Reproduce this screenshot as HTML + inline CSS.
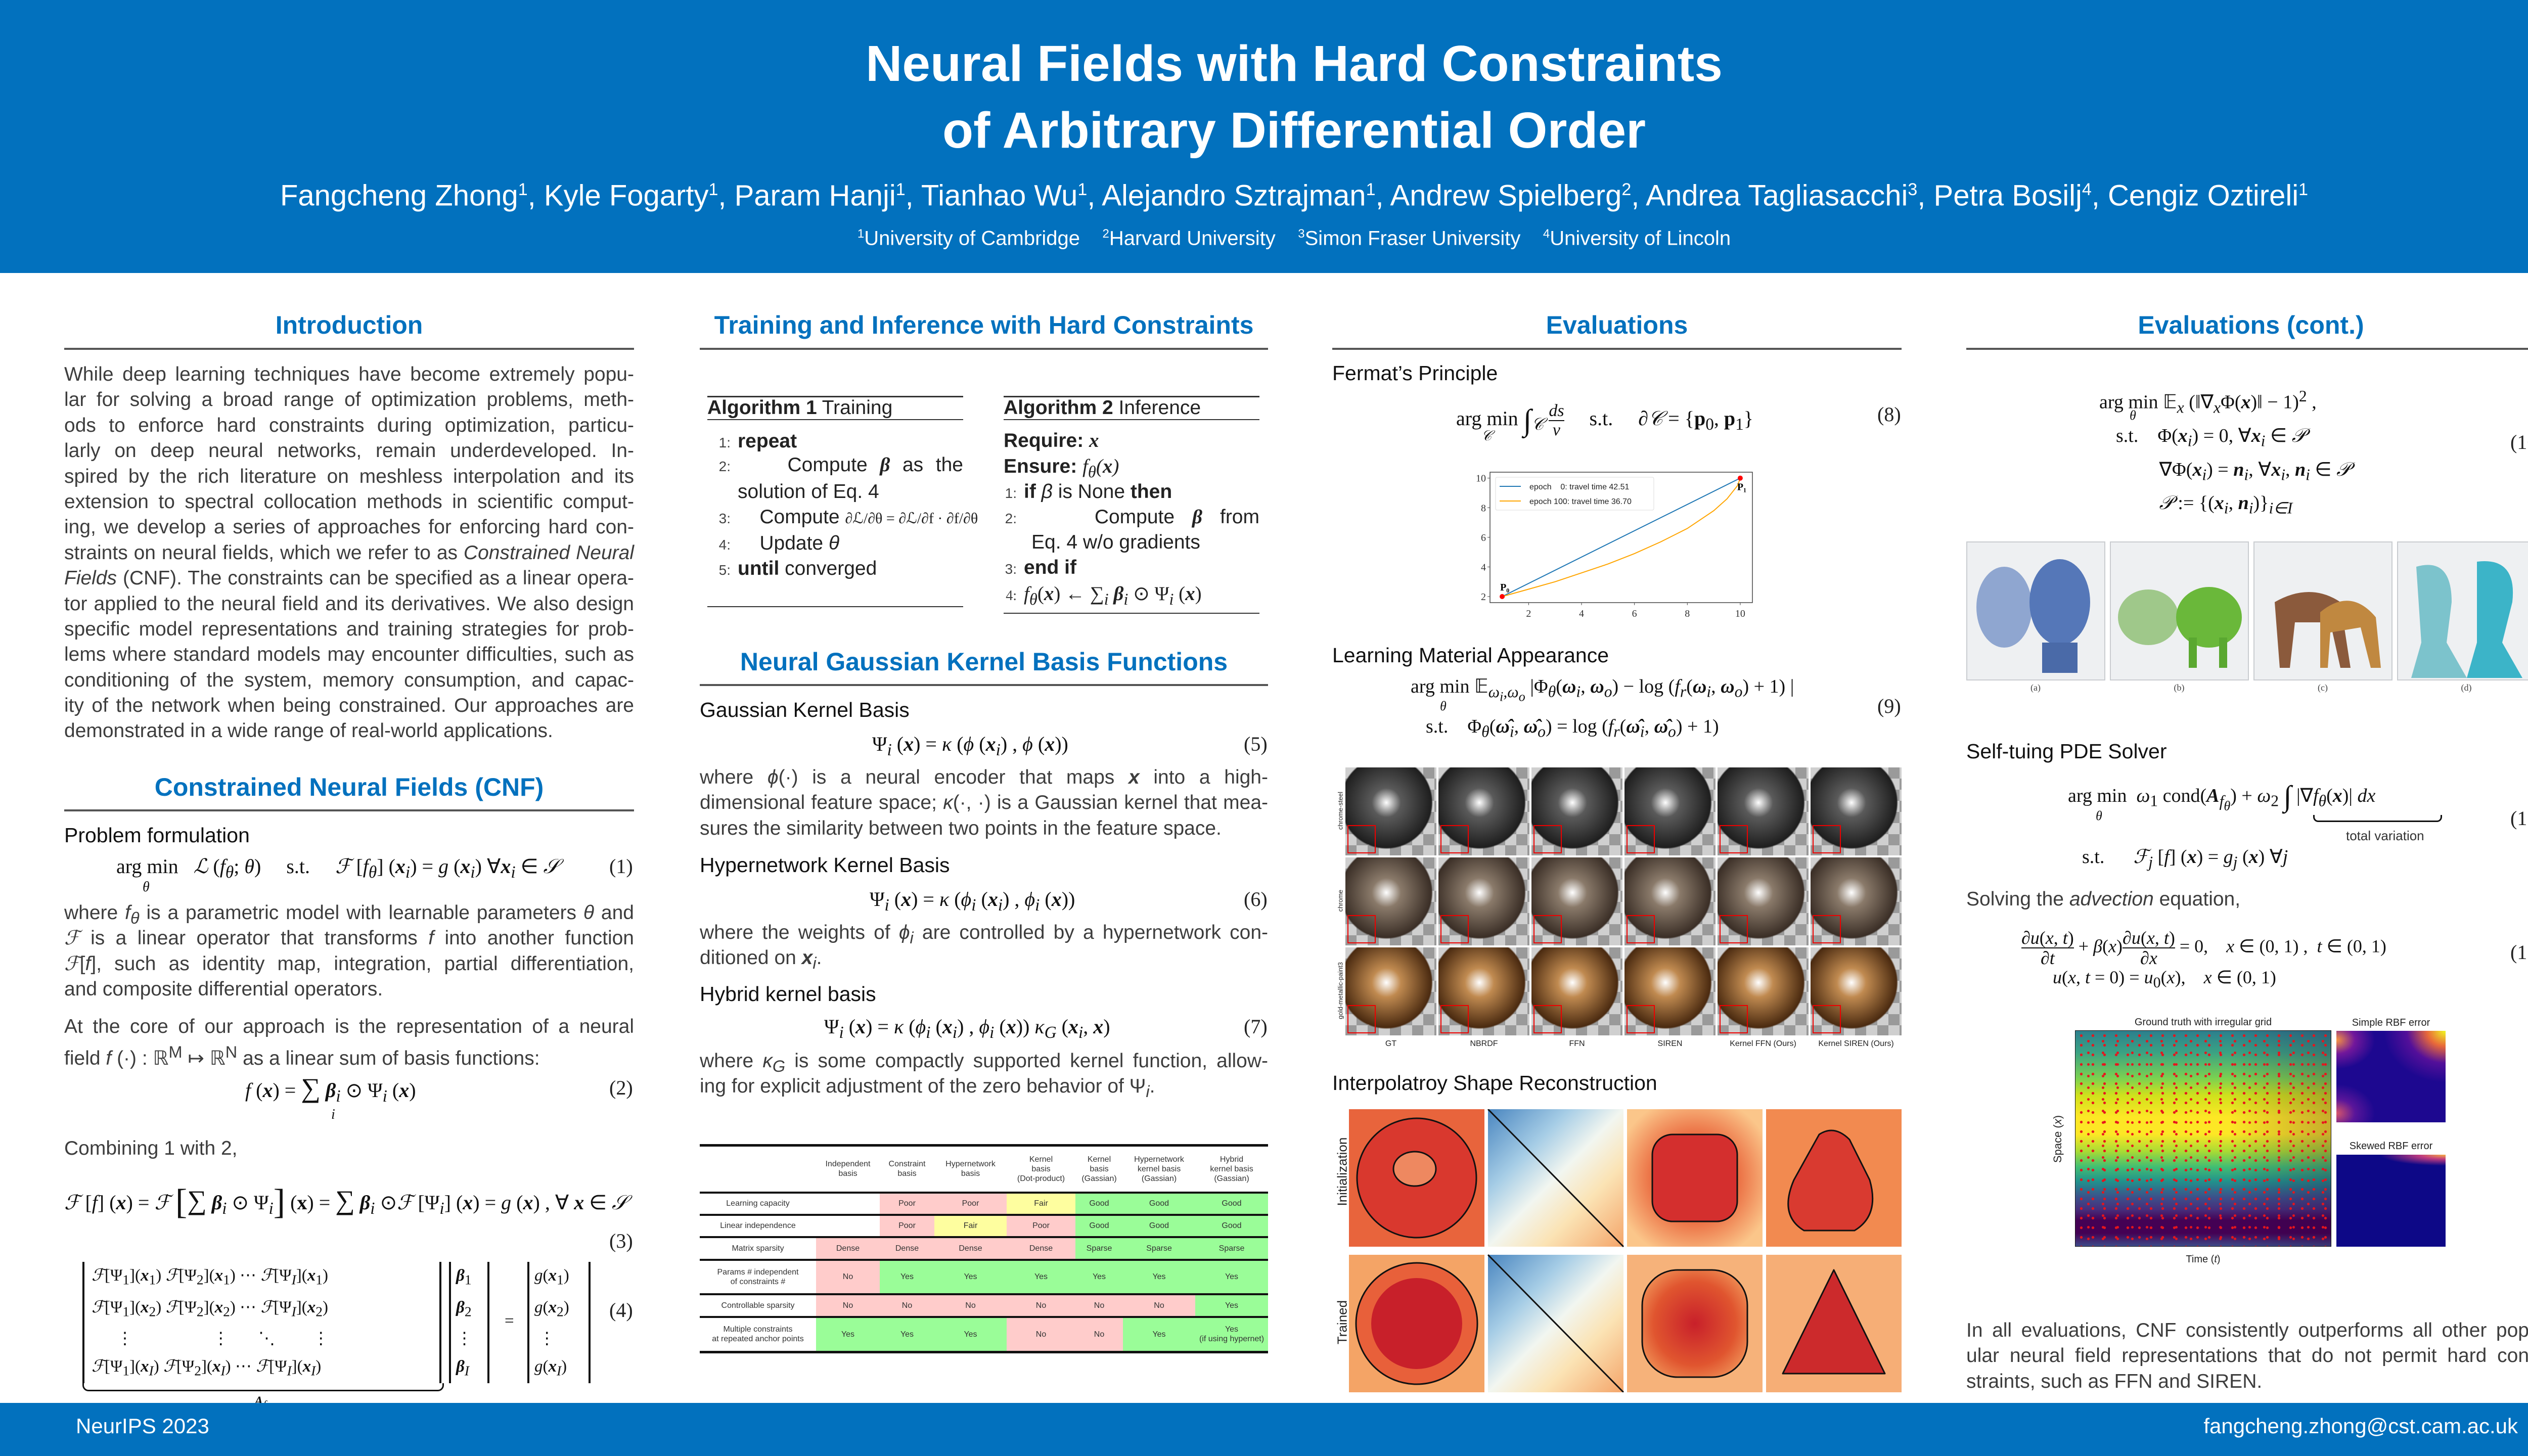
<!DOCTYPE html>
<html><head><meta charset="utf-8">
<style>
*{margin:0;padding:0;box-sizing:border-box}
body{width:5119px;height:2880px;position:relative;background:#fff;font-family:"Liberation Sans",sans-serif;color:#222;overflow:hidden}
.a{position:absolute;white-space:nowrap}
.hd{position:absolute;font-size:50px;font-weight:bold;color:#0271be;text-align:center;line-height:64px}
.rule{position:absolute;height:4px;background:#555}
.sub{position:absolute;font-size:41px;color:#111;line-height:50px;white-space:nowrap}
.p{position:absolute;font-size:39px;line-height:50.4px;color:#3d3d3d}
.p div{text-align:justify;text-align-last:justify;white-space:nowrap;height:50.4px}
.p div.l{text-align-last:left}
.eq{position:absolute;font-family:"Liberation Serif",serif;font-size:40px;line-height:50px;white-space:nowrap;color:#111}
.i{font-style:italic}
.b{font-weight:bold}
.num{position:absolute;font-family:"Liberation Serif",serif;font-size:40px;line-height:50px}
.alg{position:absolute;font-size:39px;line-height:50px;white-space:nowrap;color:#222}
.ln{font-size:28px;color:#444;display:inline-block;width:60px;text-align:right;padding-right:14px}
.js{display:inline-block;text-align:justify;text-align-last:justify}
table.cmp{position:absolute;left:1384px;top:2263px;width:1124px;border-collapse:collapse;font-size:16px;color:#333;text-align:center}
.cmp td{padding:0;line-height:19px}
.R{background:#ffcccb}.G{background:#9afd98}.Y{background:#fefe9f}
</style></head><body>

<!-- HEADER -->
<div style="position:absolute;left:0;top:0;width:5119px;height:540px;background:#0271be"></div>
<div class="a" style="left:0;width:5119px;top:60px;text-align:center;color:#fff;font-weight:bold;font-size:100px;line-height:132px">Neural Fields with Hard Constraints<br>of Arbitrary Differential Order</div>
<div class="a" style="left:0;width:5119px;top:337px;text-align:center;color:#fff;font-size:58px;line-height:76px">Fangcheng Zhong<sup style="font-size:34px">1</sup>, Kyle Fogarty<sup style="font-size:34px">1</sup>, Param Hanji<sup style="font-size:34px">1</sup>, Tianhao Wu<sup style="font-size:34px">1</sup>, Alejandro Sztrajman<sup style="font-size:34px">1</sup>, Andrew Spielberg<sup style="font-size:34px">2</sup>, Andrea Tagliasacchi<sup style="font-size:34px">3</sup>, Petra Bosilj<sup style="font-size:34px">4</sup>, Cengiz Oztireli<sup style="font-size:34px">1</sup></div>
<div class="a" style="left:0;width:5119px;top:436px;text-align:center;color:#fff;font-size:40px;line-height:54px"><sup style="font-size:24px">1</sup>University of Cambridge &nbsp;&nbsp; <sup style="font-size:24px">2</sup>Harvard University &nbsp;&nbsp; <sup style="font-size:24px">3</sup>Simon Fraser University &nbsp;&nbsp; <sup style="font-size:24px">4</sup>University of Lincoln</div>

<!-- COLUMN 1 -->
<div class="hd" style="left:127px;width:1127px;top:611px">Introduction</div>
<div class="rule" style="left:127px;width:1127px;top:688px"></div>
<div class="p" style="left:127px;width:1127px;top:716px">
<div>While deep learning techniques have become extremely popu-</div>
<div>lar for solving a broad range of optimization problems, meth-</div>
<div>ods to enforce hard constraints during optimization, particu-</div>
<div>larly on deep neural networks, remain underdeveloped. In-</div>
<div>spired by the rich literature on meshless interpolation and its</div>
<div>extension to spectral collocation methods in scientific comput-</div>
<div>ing, we develop a series of approaches for enforcing hard con-</div>
<div>straints on neural fields, which we refer to as <i>Constrained Neural</i></div>
<div><i>Fields</i> (CNF). The constraints can be specified as a linear opera-</div>
<div>tor applied to the neural field and its derivatives. We also design</div>
<div>specific model representations and training strategies for prob-</div>
<div>lems where standard models may encounter difficulties, such as</div>
<div>conditioning of the system, memory consumption, and capac-</div>
<div>ity of the network when being constrained. Our approaches are</div>
<div class="l">demonstrated in a wide range of real-world applications.</div>
</div>

<div class="hd" style="left:127px;width:1127px;top:1525px">Constrained Neural Fields (CNF)</div>
<div class="rule" style="left:127px;width:1127px;top:1601px"></div>
<div class="sub" style="left:127px;top:1627px">Problem formulation</div>
<div class="eq" style="left:230px;top:1689px">arg min <span style="display:inline-block;width:20px"></span><span class="i">ℒ</span> (<span class="i">f<sub>θ</sub></span>; <span class="i">θ</span>) &nbsp;&nbsp;&nbsp; s.t. &nbsp;&nbsp;&nbsp; <span class="i">ℱ</span> [<span class="i">f<sub>θ</sub></span>] (<b class="i">x</b><sub class="i">i</sub>) = <span class="i">g</span> (<b class="i">x</b><sub class="i">i</sub>) ∀<b class="i">x</b><sub class="i">i</sub> ∈ <span class="i">𝒮</span></div>
<div class="eq i" style="left:282px;top:1730px;font-size:28px">θ</div>
<div class="num" style="left:1205px;top:1689px">(1)</div>
<div class="p" style="left:127px;width:1127px;top:1781px">
<div>where <i>f<sub>θ</sub></i> is a parametric model with learnable parameters <i>θ</i> and</div>
<div><i>ℱ</i> is a linear operator that transforms <i>f</i> into another function</div>
<div><i>ℱ</i>[<i>f</i>], such as identity map, integration, partial differentiation,</div>
<div class="l">and composite differential operators.</div>
</div>
<div class="p" style="left:127px;width:1127px;top:2006px">
<div>At the core of our approach is the representation of a neural</div>
<div class="l">field <i>f</i> (·) : ℝ<sup>M</sup> ↦ ℝ<sup>N</sup> as a linear sum of basis functions:</div>
</div>
<div class="eq" style="left:485px;top:2127px"><span class="i">f</span> (<b class="i">x</b>) = <span style="font-size:54px">∑</span> <b class="i">β</b><sub class="i">i</sub> ⊙ Ψ<sub class="i">i</sub> (<b class="i">x</b>)</div>
<div class="eq i" style="left:655px;top:2180px;font-size:28px">i</div>
<div class="num" style="left:1205px;top:2127px">(2)</div>
<div class="p" style="left:127px;top:2247px"><div class="l">Combining 1 with 2,</div></div>
<div class="eq" style="left:127px;top:2349px"><span class="i">ℱ</span> [<span class="i">f</span>] (<b class="i">x</b>) = <span class="i">ℱ</span> <span style="font-size:70px;vertical-align:-8px">[</span><span style="font-size:54px">∑</span> <b class="i">β</b><sub class="i">i</sub> ⊙ Ψ<sub class="i">i</sub><span style="font-size:70px;vertical-align:-8px">]</span> (<b>x</b>) = <span style="font-size:54px">∑</span> <b class="i">β</b><sub class="i">i</sub> ⊙<span class="i">ℱ</span> [Ψ<sub class="i">i</sub>] (<b class="i">x</b>) = <span class="i">g</span> (<b class="i">x</b>) , ∀ <b class="i">x</b> ∈ <span class="i">𝒮</span></div>
<div class="num" style="left:1205px;top:2430px">(3)</div>
<div class="eq" style="left:163px;top:2496px;font-size:33px;line-height:55px">
 <div style="position:absolute;left:0;top:0;width:710px;height:240px;border-left:4px solid #111;border-right:4px solid #111;padding-left:14px">
  <div><span class="i">ℱ</span>[Ψ<sub>1</sub>](<b class="i">x</b><sub>1</sub>) <span class="i">ℱ</span>[Ψ<sub>2</sub>](<b class="i">x</b><sub>1</sub>) ⋯ <span class="i">ℱ</span>[Ψ<sub class="i">I</sub>](<b class="i">x</b><sub>1</sub>)</div>
  <div><span class="i">ℱ</span>[Ψ<sub>1</sub>](<b class="i">x</b><sub>2</sub>) <span class="i">ℱ</span>[Ψ<sub>2</sub>](<b class="i">x</b><sub>2</sub>) ⋯ <span class="i">ℱ</span>[Ψ<sub class="i">I</sub>](<b class="i">x</b><sub>2</sub>)</div>
  <div>&nbsp;&nbsp;&nbsp;&nbsp;&nbsp;&nbsp;⋮ &nbsp;&nbsp;&nbsp;&nbsp;&nbsp;&nbsp;&nbsp;&nbsp;&nbsp;&nbsp;&nbsp;&nbsp;&nbsp;&nbsp;&nbsp;&nbsp;&nbsp;&nbsp;⋮ &nbsp;&nbsp;&nbsp;&nbsp;&nbsp;&nbsp;⋱ &nbsp;&nbsp;&nbsp;&nbsp;&nbsp;&nbsp;&nbsp;&nbsp;⋮</div>
  <div><span class="i">ℱ</span>[Ψ<sub>1</sub>](<b class="i">x</b><sub class="i">I</sub>) <span class="i">ℱ</span>[Ψ<sub>2</sub>](<b class="i">x</b><sub class="i">I</sub>) ⋯ <span class="i">ℱ</span>[Ψ<sub class="i">I</sub>](<b class="i">x</b><sub class="i">I</sub>)</div>
 </div>
 <div style="position:absolute;left:725px;top:0;width:80px;height:240px;border-left:4px solid #111;border-right:4px solid #111;padding-left:10px"><b class="i">β</b><sub>1</sub><br><b class="i">β</b><sub>2</sub><br>⋮<br><b class="i">β</b><sub class="i">I</sub></div>
 <div style="position:absolute;left:835px;top:90px">=</div>
 <div style="position:absolute;left:880px;top:0;width:125px;height:240px;border-left:4px solid #111;border-right:4px solid #111;padding-left:10px"><span class="i">g</span>(<b class="i">x</b><sub>1</sub>)<br><span class="i">g</span>(<b class="i">x</b><sub>2</sub>)<br>&nbsp;⋮<br><span class="i">g</span>(<b class="i">x</b><sub class="i">I</sub>)</div>
 <div style="position:absolute;left:0;top:240px;width:715px;height:16px;border:3px solid #111;border-top:none;border-radius:0 0 12px 12px"></div>
 <div style="position:absolute;left:340px;top:248px;font-size:26px"><b class="i">A</b><sub class="i">f</sub></div>
</div>
<div class="num" style="left:1205px;top:2567px">(4)</div>

<!-- COLUMN 2 -->
<div class="hd" style="left:1384px;width:1124px;top:611px">Training and Inference with Hard Constraints</div>
<div class="rule" style="left:1384px;width:1124px;top:688px"></div>

<div>
<div class="rule" style="left:1399px;width:506px;top:783px;height:3px;background:#333"></div>
<div class="alg" style="left:1399px;top:782px"><b>Algorithm 1</b> Training</div>
<div class="rule" style="left:1399px;width:506px;top:829px;height:2px;background:#333"></div>
<div class="alg" style="left:1399px;top:848px"><span class="ln">1:</span><b>repeat</b></div>
<div class="alg" style="left:1399px;top:895px"><span class="ln">2:</span><span class="js" style="width:446px">&nbsp;&nbsp;&nbsp;&nbsp;Compute <b class="i" style="font-family:'Liberation Serif'">β</b> as the</span></div>
<div class="alg" style="left:1459px;top:948px">solution of Eq. 4</div>
<div class="alg" style="left:1399px;top:998px"><span class="ln">3:</span>&nbsp;&nbsp;&nbsp;&nbsp;Compute <span style="font-family:'Liberation Serif';font-size:30px">∂ℒ/∂θ = ∂ℒ/∂f · ∂f/∂θ</span></div>
<div class="alg" style="left:1399px;top:1050px"><span class="ln">4:</span>&nbsp;&nbsp;&nbsp;&nbsp;Update <i>θ</i></div>
<div class="alg" style="left:1399px;top:1100px"><span class="ln">5:</span><b>until</b> converged</div>
<div class="rule" style="left:1399px;width:506px;top:1199px;height:2px;background:#333"></div>
</div>

<div>
<div class="rule" style="left:1985px;width:506px;top:783px;height:3px;background:#333"></div>
<div class="alg" style="left:1985px;top:782px"><b>Algorithm 2</b> Inference</div>
<div class="rule" style="left:1985px;width:506px;top:829px;height:2px;background:#333"></div>
<div class="alg" style="left:1985px;top:847px"><b>Require:</b> <b class="i" style="font-family:'Liberation Serif'">x</b></div>
<div class="alg" style="left:1985px;top:898px"><b>Ensure:</b> <span class="i" style="font-family:'Liberation Serif'">f<sub>θ</sub>(<b>x</b>)</span></div>
<div class="alg" style="left:1985px;top:948px"><span class="ln" style="width:40px">1:</span><b>if</b> <i>β</i> is None <b>then</b></div>
<div class="alg" style="left:1985px;top:998px"><span class="ln" style="width:40px">2:</span><span class="js" style="width:466px">&nbsp;&nbsp;&nbsp;&nbsp;Compute <b class="i" style="font-family:'Liberation Serif'">β</b> from</span></div>
<div class="alg" style="left:2040px;top:1048px">Eq. 4 w/o gradients</div>
<div class="alg" style="left:1985px;top:1098px"><span class="ln" style="width:40px">3:</span><b>end if</b></div>
<div class="alg" style="left:1985px;top:1150px;font-family:'Liberation Serif'"><span class="ln" style="width:40px">4:</span><i>f<sub>θ</sub></i>(<b class="i">x</b>) ← ∑<sub class="i">i</sub> <b class="i">β</b><sub class="i">i</sub> ⊙ Ψ<sub class="i">i</sub> (<b class="i">x</b>)</div>
<div class="rule" style="left:1985px;width:506px;top:1212px;height:2px;background:#333"></div>
</div>

<div class="hd" style="left:1384px;width:1124px;top:1277px">Neural Gaussian Kernel Basis Functions</div>
<div class="rule" style="left:1384px;width:1124px;top:1353px"></div>
<div class="sub" style="left:1384px;top:1379px">Gaussian Kernel Basis</div>
<div class="eq" style="left:1725px;top:1447px">Ψ<sub class="i">i</sub> (<b class="i">x</b>) = <span class="i">κ</span> (<span class="i">ϕ</span> (<b class="i">x</b><sub class="i">i</sub>) , <span class="i">ϕ</span> (<b class="i">x</b>))</div>
<div class="num" style="left:2460px;top:1447px">(5)</div>
<div class="p" style="left:1384px;width:1124px;top:1513px">
<div>where <i>ϕ</i>(·) is a neural encoder that maps <b><i>x</i></b> into a high-</div>
<div>dimensional feature space; <i>κ</i>(·, ·) is a Gaussian kernel that mea-</div>
<div class="l">sures the similarity between two points in the feature space.</div>
</div>
<div class="sub" style="left:1384px;top:1686px">Hypernetwork Kernel Basis</div>
<div class="eq" style="left:1720px;top:1754px">Ψ<sub class="i">i</sub> (<b class="i">x</b>) = <span class="i">κ</span> (<span class="i">ϕ<sub>i</sub></span> (<b class="i">x</b><sub class="i">i</sub>) , <span class="i">ϕ<sub>i</sub></span> (<b class="i">x</b>))</div>
<div class="num" style="left:2460px;top:1754px">(6)</div>
<div class="p" style="left:1384px;width:1124px;top:1820px">
<div>where the weights of <i>ϕ<sub>i</sub></i> are controlled by a hypernetwork con-</div>
<div class="l">ditioned on <b><i>x</i></b><sub><i>i</i></sub>.</div>
</div>
<div class="sub" style="left:1384px;top:1941px">Hybrid kernel basis</div>
<div class="eq" style="left:1630px;top:2006px">Ψ<sub class="i">i</sub> (<b class="i">x</b>) = <span class="i">κ</span> (<span class="i">ϕ<sub>i</sub></span> (<b class="i">x</b><sub class="i">i</sub>) , <span class="i">ϕ<sub>i</sub></span> (<b class="i">x</b>)) <span class="i">κ<sub>G</sub></span> (<b class="i">x</b><sub class="i">i</sub>, <b class="i">x</b>)</div>
<div class="num" style="left:2460px;top:2006px">(7)</div>
<div class="p" style="left:1384px;width:1124px;top:2074px">
<div>where <i>κ<sub>G</sub></i> is some compactly supported kernel function, allow-</div>
<div class="l">ing for explicit adjustment of the zero behavior of Ψ<sub><i>i</i></sub>.</div>
</div>

<table class="cmp">
<colgroup><col style="width:230px"><col style="width:126px"><col style="width:108px"><col style="width:143px"><col style="width:136px"><col style="width:94px"><col style="width:143px"><col style="width:144px"></colgroup>
<tr style="height:93px;border-top:5px solid #111;border-bottom:4px solid #111"><td></td><td>Independent<br>basis</td><td>Constraint<br>basis</td><td>Hypernetwork<br>basis</td><td>Kernel<br>basis<br>(Dot-product)</td><td>Kernel<br>basis<br>(Gassian)</td><td>Hypernetwork<br>kernel basis<br>(Gassian)</td><td>Hybrid<br>kernel basis<br>(Gassian)</td></tr>
<tr style="height:44px;border-bottom:4px solid #111"><td>Learning capacity</td><td></td><td class="R">Poor</td><td class="R">Poor</td><td class="Y">Fair</td><td class="G">Good</td><td class="G">Good</td><td class="G">Good</td></tr>
<tr style="height:44px;border-bottom:4px solid #111"><td>Linear independence</td><td></td><td class="R">Poor</td><td class="Y">Fair</td><td class="R">Poor</td><td class="G">Good</td><td class="G">Good</td><td class="G">Good</td></tr>
<tr style="height:45px;border-bottom:4px solid #111"><td>Matrix sparsity</td><td class="R">Dense</td><td class="R">Dense</td><td class="R">Dense</td><td class="R">Dense</td><td class="G">Sparse</td><td class="G">Sparse</td><td class="G">Sparse</td></tr>
<tr style="height:68px;border-bottom:4px solid #111"><td>Params # independent<br>of constraints #</td><td class="R">No</td><td class="G">Yes</td><td class="G">Yes</td><td class="G">Yes</td><td class="G">Yes</td><td class="G">Yes</td><td class="G">Yes</td></tr>
<tr style="height:45px;border-bottom:4px solid #111"><td>Controllable sparsity</td><td class="R">No</td><td class="R">No</td><td class="R">No</td><td class="R">No</td><td class="R">No</td><td class="R">No</td><td class="G">Yes</td></tr>
<tr style="height:70px;border-bottom:5px solid #111"><td>Multiple constraints<br>at repeated anchor points</td><td class="G">Yes</td><td class="G">Yes</td><td class="G">Yes</td><td class="R">No</td><td class="R">No</td><td class="G">Yes</td><td class="G">Yes<br>(if using hypernet)</td></tr>
</table>

<!-- COLUMN 3 -->
<div class="hd" style="left:2635px;width:1126px;top:611px">Evaluations</div>
<div class="rule" style="left:2635px;width:1126px;top:688px"></div>
<div class="sub" style="left:2635px;top:713px">Fermat’s Principle</div>
<div class="eq" style="left:2880px;top:795px">arg min <span style="font-size:60px;vertical-align:-10px">∫</span><sub class="i">𝒞</sub> <span style="display:inline-block;vertical-align:middle;text-align:center;font-size:34px;line-height:36px"><span class="i">ds</span><br><span style="border-top:2px solid #111;display:block" class="i">v</span></span> &nbsp;&nbsp;&nbsp; s.t. &nbsp;&nbsp;&nbsp; ∂<span class="i">𝒞</span> = {<b>p</b><sub>0</sub>, <b>p</b><sub>1</sub>}</div>
<div class="eq i" style="left:2930px;top:838px;font-size:28px">𝒞</div>
<div class="num" style="left:3713px;top:795px">(8)</div>

<svg id="fermat" style="position:absolute;left:2880px;top:910px" width="620" height="330"></svg>

<div class="sub" style="left:2635px;top:1271px">Learning Material Appearance</div>
<div class="eq" style="left:2790px;top:1333px;font-size:38px">arg min 𝔼<sub class="i">ω<sub>i</sub>,ω<sub>o</sub></sub> |Φ<sub class="i">θ</sub>(<b class="i">ω</b><sub class="i">i</sub>, <b class="i">ω</b><sub class="i">o</sub>) − log (<span class="i">f<sub>r</sub></span>(<b class="i">ω</b><sub class="i">i</sub>, <b class="i">ω</b><sub class="i">o</sub>) + 1) |</div>
<div class="eq i" style="left:2848px;top:1372px;font-size:26px">θ</div>
<div class="eq" style="left:2820px;top:1412px;font-size:38px">s.t. &nbsp;&nbsp; Φ<sub class="i">θ</sub>(<b class="i">ω̂</b><sub class="i">i</sub>, <b class="i">ω̂</b><sub class="i">o</sub>) = log (<span class="i">f<sub>r</sub></span>(<b class="i">ω̂</b><sub class="i">i</sub>, <b class="i">ω̂</b><sub class="i">o</sub>) + 1)</div>
<div class="num" style="left:3713px;top:1372px">(9)</div>
<div id="materials" style="position:absolute;left:2661px;top:1518px;width:1100px;height:570px"></div>

<div class="sub" style="left:2635px;top:2117px">Interpolatroy Shape Reconstruction</div>
<div class="a" style="left:2595px;top:2310px;font-size:26px;transform:rotate(-90deg);width:120px;text-align:center">Initialization</div>
<div class="a" style="left:2595px;top:2600px;font-size:26px;transform:rotate(-90deg);width:120px;text-align:center">Trained</div>
<svg style="position:absolute;left:2668px;top:2194px" width="1093" height="560">
<defs>
<radialGradient id="rg1" cx="50%" cy="50%" r="65%"><stop offset="0" stop-color="#c8202a"/><stop offset=".6" stop-color="#e0552f"/><stop offset="1" stop-color="#f4a060"/></radialGradient>
<linearGradient id="lg1" x1="0" y1="0" x2="1" y2="1"><stop offset="0" stop-color="#4a86c0"/><stop offset=".3" stop-color="#a6cde6"/><stop offset=".5" stop-color="#f2f6f0"/><stop offset=".7" stop-color="#fbe3b4"/><stop offset="1" stop-color="#f4a56a"/></linearGradient>
<radialGradient id="rg2" cx="50%" cy="50%" r="60%"><stop offset="0" stop-color="#c9222b"/><stop offset=".5" stop-color="#ea6a3f"/><stop offset="1" stop-color="#fbc68a"/></radialGradient>
</defs>
<g>
<rect x="0" y="0" width="268" height="272" fill="#e8643c"/><circle cx="134" cy="136" r="118" fill="#d9382e" stroke="#111" stroke-width="3"/><ellipse cx="130" cy="118" rx="42" ry="34" fill="#ee8860" stroke="#111" stroke-width="3"/>
<rect x="275" y="0" width="268" height="272" fill="url(#lg1)"/><line x1="275" y1="0" x2="543" y2="272" stroke="#111" stroke-width="3"/>
<rect x="550" y="0" width="268" height="272" fill="url(#rg2)"/><rect x="600" y="50" width="168" height="172" rx="40" fill="#d42f2e" stroke="#111" stroke-width="3"/>
<rect x="825" y="0" width="268" height="272" fill="#f28a50"/><path d="M930 50 Q960 30 990 60 L1030 140 Q1050 210 1000 240 L900 240 Q850 210 880 140 Z" fill="#d93a30" stroke="#111" stroke-width="3"/>
</g>
<g transform="translate(0,288)">
<rect x="0" y="0" width="268" height="272" fill="#f4a466"/><circle cx="134" cy="136" r="120" fill="#e8603a" stroke="#111" stroke-width="3"/><circle cx="134" cy="136" r="90" fill="#c8202a"/>
<rect x="275" y="0" width="268" height="272" fill="url(#lg1)"/><line x1="275" y1="0" x2="543" y2="272" stroke="#111" stroke-width="3"/>
<rect x="550" y="0" width="268" height="272" fill="#f6b27a"/><rect x="580" y="30" width="208" height="212" rx="70" fill="url(#rg1)" stroke="#111" stroke-width="3"/>
<rect x="825" y="0" width="268" height="272" fill="#f6ae76"/><path d="M959 30 L1060 235 L858 235 Z" fill="#cc2a2c" stroke="#111" stroke-width="3" stroke-linejoin="round"/>
</g>
</svg>

<!-- COLUMN 4 -->
<div class="hd" style="left:3889px;width:1126px;top:611px">Evaluations (cont.)</div>
<div class="rule" style="left:3889px;width:1126px;top:688px"></div>
<div class="eq" style="left:4152px;top:759px;font-size:38px">arg min 𝔼<sub class="i">x</sub> (‖∇<sub class="i">x</sub>Φ(<b class="i">x</b>)‖ − 1)<sup>2</sup> ,</div>
<div class="eq i" style="left:4212px;top:797px;font-size:26px">θ</div>
<div class="eq" style="left:4185px;top:834px;font-size:38px;line-height:57px">s.t. &nbsp;&nbsp;&nbsp;Φ(<b class="i">x</b><sub class="i">i</sub>) = 0, ∀<b class="i">x</b><sub class="i">i</sub> ∈ <span class="i">𝒫</span><br>&nbsp;&nbsp;&nbsp;&nbsp;&nbsp;&nbsp;&nbsp;&nbsp;&nbsp;∇Φ(<b class="i">x</b><sub class="i">i</sub>) = <b class="i">n</b><sub class="i">i</sub>, ∀<b class="i">x</b><sub class="i">i</sub>, <b class="i">n</b><sub class="i">i</sub> ∈ <span class="i">𝒫</span><br>&nbsp;&nbsp;&nbsp;&nbsp;&nbsp;&nbsp;&nbsp;&nbsp;&nbsp;<span class="i">𝒫</span> := {(<b class="i">x</b><sub class="i">i</sub>, <b class="i">n</b><sub class="i">i</sub>)}<sub class="i">i∈I</sub></div>
<div class="num" style="left:4965px;top:850px">(10)</div>

<svg style="position:absolute;left:3889px;top:1071px" width="1126" height="310">
<g fill="none" stroke="#c9ccd0" stroke-width="2">
<rect x="1" y="1" width="273" height="273" fill="#eef0f2"/><rect x="285" y="1" width="273" height="273" fill="#eef0f2"/><rect x="569" y="1" width="273" height="273" fill="#eef0f2"/><rect x="853" y="1" width="272" height="273" fill="#eef0f2"/>
</g>
<ellipse cx="75" cy="130" rx="55" ry="80" fill="#8fa6d0"/><ellipse cx="185" cy="120" rx="60" ry="85" fill="#5577b8"/><rect x="150" y="200" width="70" height="60" fill="#4a6aa8"/>
<ellipse cx="360" cy="150" rx="60" ry="55" fill="#9fc88a"/><ellipse cx="480" cy="150" rx="65" ry="60" fill="#6ab83a"/><rect x="440" y="190" width="16" height="60" fill="#5aa830"/><rect x="500" y="190" width="16" height="60" fill="#5aa830"/>
<path d="M610 120 Q680 80 740 120 L760 250 L740 250 L720 160 L650 160 L640 250 L620 250 Z" fill="#8b5a3c"/><path d="M700 140 Q760 90 810 150 L820 250 L800 250 L780 170 L720 180 L715 250 L700 250 Z" fill="#c08840"/>
<path d="M890 50 Q960 30 960 120 L950 200 L990 270 L880 270 L900 200 Z" fill="#7cc3cc"/><path d="M1010 40 Q1090 30 1080 120 L1060 200 L1100 270 L990 270 L1010 200 Z" fill="#3cb4c8"/>
<text x="137" y="295" font-size="18" text-anchor="middle" fill="#444" font-family="Liberation Serif">(a)</text><text x="421" y="295" font-size="18" text-anchor="middle" fill="#444" font-family="Liberation Serif">(b)</text><text x="705" y="295" font-size="18" text-anchor="middle" fill="#444" font-family="Liberation Serif">(c)</text><text x="989" y="295" font-size="18" text-anchor="middle" fill="#444" font-family="Liberation Serif">(d)</text>
</svg>

<div class="sub" style="left:3889px;top:1461px">Self-tuing PDE Solver</div>
<div class="eq" style="left:4090px;top:1549px;font-size:38px">arg min &nbsp;<span class="i">ω</span><sub>1</sub> cond(<b class="i">A</b><sub class="i">f<sub>θ</sub></sub>) + <span class="i">ω</span><sub>2</sub> <span style="font-size:58px;vertical-align:-8px">∫</span> |∇<span class="i">f<sub>θ</sub></span>(<b class="i">x</b>)| <span class="i">dx</span></div>
<div class="eq i" style="left:4145px;top:1589px;font-size:26px">θ</div>
<div style="position:absolute;left:4575px;top:1612px;width:255px;height:14px;border:3px solid #111;border-top:none;border-radius:0 0 10px 10px"></div>
<div class="a" style="left:4640px;top:1638px;font-size:26px;color:#333">total variation</div>
<div class="num" style="left:4965px;top:1594px">(11)</div>
<div class="eq" style="left:4118px;top:1670px;font-size:38px">s.t. &nbsp;&nbsp;&nbsp;&nbsp;&nbsp;<span class="i">ℱ<sub>j</sub></span> [<span class="i">f</span>] (<b class="i">x</b>) = <span class="i">g<sub>j</sub></span> (<b class="i">x</b>) ∀<span class="i">j</span></div>
<div class="p" style="left:3889px;top:1754px"><div class="l">Solving the <i>advection</i> equation,</div></div>
<div class="eq" style="left:3998px;top:1836px;font-size:36px"><span style="display:inline-block;vertical-align:middle;text-align:center;line-height:38px">∂<span class="i">u</span>(<span class="i">x</span>, <span class="i">t</span>)<br><span style="border-top:2px solid #111;display:block">∂<span class="i">t</span></span></span> + <span class="i">β</span>(<span class="i">x</span>)<span style="display:inline-block;vertical-align:middle;text-align:center;line-height:38px">∂<span class="i">u</span>(<span class="i">x</span>, <span class="i">t</span>)<br><span style="border-top:2px solid #111;display:block">∂<span class="i">x</span></span></span> = 0, &nbsp;&nbsp; <span class="i">x</span> ∈ (0, 1) , &nbsp;<span class="i">t</span> ∈ (0, 1)</div>
<div class="eq" style="left:4060px;top:1908px;font-size:36px"><span class="i">u</span>(<span class="i">x</span>, <span class="i">t</span> = 0) = <span class="i">u</span><sub>0</sub>(<span class="i">x</span>), &nbsp;&nbsp; <span class="i">x</span> ∈ (0, 1)</div>
<div class="num" style="left:4965px;top:1859px">(12)</div>

<div class="a" style="left:4104px;width:507px;top:2011px;text-align:center;font-size:20px">Ground truth with irregular grid</div>
<div style="position:absolute;left:4104px;top:2038px;width:507px;height:428px;border:1px solid #111;background:radial-gradient(circle,#e8141c 2.2px,transparent 3px) 0 0/23px 19px,radial-gradient(circle,#e8141c 2px,transparent 3px) 11px 9px/29px 23px,linear-gradient(90deg,rgba(0,0,0,0) 60%,rgba(40,0,60,.25)),linear-gradient(180deg,#2c7f8e 0%,#3aa283 10%,#7ad151 22%,#d0e11c 30%,#fde725 40%,#fde725 48%,#a8db34 56%,#43bf71 63%,#21918c 70%,#3b528b 77%,#472d7b 83%,#440154 88%,#440154 94%,#3e4a89 100%)"></div>
<div class="a" style="left:4020px;top:2240px;font-size:22px;transform:rotate(-90deg);width:100px;text-align:center">Space (<i>x</i>)</div>
<div class="a" style="left:4104px;width:507px;top:2480px;text-align:center;font-size:20px">Time (<i>t</i>)</div>
<div class="a" style="left:4621px;width:216px;top:2012px;text-align:center;font-size:20px">Simple RBF error</div>
<div style="position:absolute;left:4621px;top:2039px;width:216px;height:181px;background:radial-gradient(ellipse at 100% 0%,#f0f921 0%,#e8683a 12%,rgba(120,20,160,.6) 25%,transparent 40%),radial-gradient(ellipse at 0% 10%,#f89540 0%,rgba(150,30,160,.7) 12%,transparent 25%),radial-gradient(ellipse at 0% 90%,#d8566a 0%,rgba(130,30,160,.6) 12%,transparent 25%),#1d0890"></div>
<div class="a" style="left:4621px;width:216px;top:2256px;text-align:center;font-size:20px">Skewed RBF error</div>
<div style="position:absolute;left:4621px;top:2284px;width:216px;height:182px;background:radial-gradient(ellipse 60% 12% at 100% 0%,#f8b040 0%,#c03b80 40%,transparent 100%),#0d0887"></div>
<div class="p" style="left:3889px;width:1126px;top:2607px">
<div>In all evaluations, CNF consistently outperforms all other pop-</div>
<div>ular neural field representations that do not permit hard con-</div>
<div class="l">straints, such as FFN and SIREN.</div>
</div>

<!-- FOOTER -->
<div style="position:absolute;left:0;top:2775px;width:5119px;height:105px;background:#0271be"></div>
<div class="a" style="left:150px;top:2796px;color:#fff;font-size:42px;line-height:50px">NeurIPS 2023</div>
<div class="a" style="right:139px;top:2796px;color:#fff;font-size:42px;line-height:50px">fangcheng.zhong@cst.cam.ac.uk</div>

<script>
// Fermat chart data
const xTicks = [2, 4, 6, 8, 10];
const yTicks = [2, 4, 6, 8, 10];
const epoch0X = [1, 10];
const epoch0Y = [2, 10];
const epoch100X = [1, 2, 3, 4, 5, 6, 7, 8, 9, 9.5, 9.9, 10];
const epoch100Y = [2, 2.5, 3.0, 3.6, 4.2, 4.9, 5.7, 6.6, 7.8, 8.6, 9.5, 10];
const legendLabels = ["epoch    0: travel time 42.51", "epoch 100: travel time 36.70"];
const endpointsX = [1, 10];
const endpointsY = [2, 10];

(function(){
  const svg = document.getElementById('fermat');
  const NS = 'http://www.w3.org/2000/svg';
  const L = 67, T = 24, W = 519, H = 258;
  const xmin = 0.54, xmax = 10.46, ymin = 1.59, ymax = 10.4;
  const sx = v => L + (v - xmin) / (xmax - xmin) * W;
  const sy = v => T + H - (v - ymin) / (ymax - ymin) * H;
  function mk(tag, attrs){ const e = document.createElementNS(NS, tag); for (const k in attrs) e.setAttribute(k, attrs[k]); svg.appendChild(e); return e; }
  const frame = mk('rect', {x:L, y:T, width:W, height:H, fill:'#fff', stroke:'#444', 'stroke-width':1.5});
  
  
  xTicks.forEach(v => {
    const t = mk('line', {x1:sx(v), x2:sx(v), y1:T+H, y2:T+H+5, stroke:'#444'});
    
    
    const lb = mk('text', {x:sx(v), y:T+H+28, 'font-size':20, 'text-anchor':'middle', 'font-family':'Liberation Serif', fill:'#333'});
    lb.textContent = v;
    
    
  });
  yTicks.forEach(v => {
    const t = mk('line', {x1:L-5, x2:L, y1:sy(v), y2:sy(v), stroke:'#444'});
    
    
    const lb = mk('text', {x:L-8, y:sy(v)+7, 'font-size':20, 'text-anchor':'end', 'font-family':'Liberation Serif', fill:'#333'});
    lb.textContent = v;
    
    
  });
  const p0 = mk('polyline', {points: epoch0X.map((x,i)=>sx(x)+','+sy(epoch0Y[i])).join(' '), fill:'none', stroke:'#1f77b4', 'stroke-width':2});
  
  
  const p1 = mk('polyline', {points: epoch100X.map((x,i)=>sx(x)+','+sy(epoch100Y[i])).join(' '), fill:'none', stroke:'#ffa500', 'stroke-width':2});
  
  
  endpointsX.forEach((x,i) => {
    const c = mk('circle', {cx:sx(x), cy:sy(endpointsY[i]), r:5, fill:'#f00'});
    
    
  });
  const t0 = mk('text', {x:sx(1)-4, y:sy(2)-12, 'font-size':20, 'font-weight':'bold', 'font-family':'Liberation Serif'});
  t0.textContent = 'P₀';
  
  
  const t1 = mk('text', {x:sx(10)-6, y:sy(10)+24, 'font-size':20, 'font-weight':'bold', 'font-family':'Liberation Serif'});
  t1.textContent = 'P₁';
  
  
  const lg = mk('rect', {x:78, y:34, width:313, height:65, rx:3, fill:'#fff', stroke:'#ddd'});
  
  
  const cols = ['#1f77b4', '#ffa500'];
  legendLabels.forEach((s,i) => {
    const y = 52 + i*29;
    const ln = mk('line', {x1:86, x2:128, y1:y, y2:y, stroke:cols[i], 'stroke-width':2});
    
    
    const tx = mk('text', {x:145, y:y+6, 'font-size':16, fill:'#222', style:'white-space:pre'});
    tx.textContent = s;
    
    
  });
})();

// Material grid
const methodLabels = ["GT", "NBRDF", "FFN", "SIREN", "Kernel FFN (Ours)", "Kernel SIREN (Ours)"];
const materialLabels = ["chrome-steel", "chrome", "gold-metallic-paint3"];
const materialTones = [["#5a5a5a","#1e1e1e"], ["#8a7a6a","#3a2e26"], ["#c08a50","#4a2a10"]];
(function(){
  const g = document.getElementById('materials');
  materialLabels.forEach((m, r) => {
    methodLabels.forEach((lab, c) => {
      const d = document.createElement('div');
      
      
      d.style.cssText = 'position:absolute;left:' + (c*184) + 'px;top:' + (r*178) + 'px;width:180px;height:174px;' +
        'background:radial-gradient(circle at 45% 40%,#fff 0,' + materialTones[r][0] + ' 20%,' + materialTones[r][1] + ' 62%,transparent 64%),repeating-conic-gradient(#9a9a9a 0 25%,#cfcfcf 0 50%) 0 0/44px 44px';
      const sq = document.createElement('div');
      sq.style.cssText = 'position:absolute;left:4px;bottom:4px;width:56px;height:56px;border:2px solid #e00;';
      d.appendChild(sq);
      g.appendChild(d);
    });
    const lb = document.createElement('div');
    
    
    lb.textContent = m;
    lb.style.cssText = 'position:absolute;left:-100px;top:' + (r*178+78) + 'px;width:180px;text-align:center;font-size:13px;transform:rotate(-90deg);';
    g.appendChild(lb);
  });
  methodLabels.forEach((lab, c) => {
    const t = document.createElement('div');
    
    
    t.textContent = lab;
    t.style.cssText = 'position:absolute;left:' + (c*184) + 'px;top:538px;width:180px;text-align:center;font-size:16px;';
    g.appendChild(t);
  });
})();
</script>
</body></html>
